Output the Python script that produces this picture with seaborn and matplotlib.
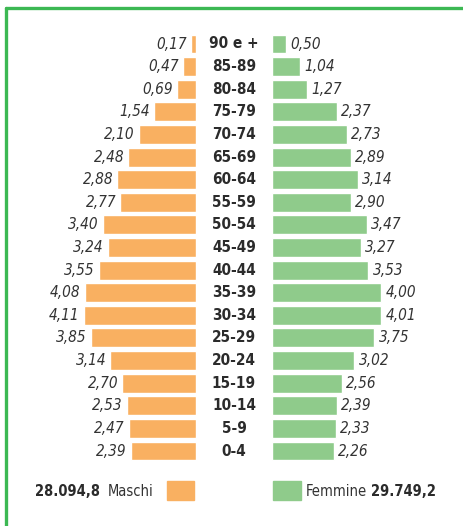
import matplotlib
matplotlib.use("Agg")
import matplotlib.pyplot as plt
from matplotlib.lines import Line2D
import seaborn as sns
import pandas as pd

# age groups, top to bottom
ages = ["90 e +", "85-89", "80-84", "75-79", "70-74", "65-69", "60-64", "55-59", "50-54",
        "45-49", "40-44", "35-39", "30-34", "25-29", "20-24", "15-19", "10-14", "5-9", "0-4"]
males = [0.17, 0.47, 0.69, 1.54, 2.10, 2.48, 2.88, 2.77, 3.40,
         3.24, 3.55, 4.08, 4.11, 3.85, 3.14, 2.70, 2.53, 2.47, 2.39]
females = [0.50, 1.04, 1.27, 2.37, 2.73, 2.89, 3.14, 2.90, 3.47,
           3.27, 3.53, 4.00, 4.01, 3.75, 3.02, 2.56, 2.39, 2.33, 2.26]
total_m = "28.094,8"
total_f = "29.749,2"

orange = "#f9b061"
green = "#8fcb8b"
border = "#3cb853"
txt = "#2b2b2b"

sns.set_theme(style="white")
plt.rcParams["font.family"] = ["Liberation Sans Narrow", "DejaVu Sans"]
plt.rcParams["font.stretch"] = "condensed"

df = pd.DataFrame({"age": ages, "m": males, "f": females})

W, H = 464, 526
fig = plt.figure(figsize=(W / 100, H / 100), dpi=100)

def px_axes(x0, x1, y0, y1):
    # pixel box (top-left origin) -> figure axes
    return fig.add_axes([x0 / W, 1 - y1 / H, (x1 - x0) / W, (y1 - y0) / H])

n = len(ages)
y_first, y_last = 44, 451
row = (y_last - y_first) / (n - 1)
top = y_first - row / 2
bot = top + n * row
scale = 27.3  # px per unit

axL = px_axes(20, 196, top, bot)
axR = px_axes(272, 455, top, bot)

sns.barplot(data=df, x="m", y="age", ax=axL, color=orange, orient="h", width=0.84,
            saturation=1)
sns.barplot(data=df, x="f", y="age", ax=axR, color=green, orient="h", width=0.84,
            saturation=1)

axL.set_xlim(176 / scale, 0)
axR.set_xlim(0, 183 / scale)
for ax in (axL, axR):
    ax.set_ylim(n - 0.5, -0.5)
    ax.axis("off")

fs = 11
axL.bar_label(axL.containers[0], labels=[f"{v:.2f}".replace(".", ",") for v in males],
              padding=3, fontsize=fs, fontstyle="italic", color="#333333")
axR.bar_label(axR.containers[0], labels=[f"{v:.2f}".replace(".", ",") for v in females],
              padding=3, fontsize=fs, fontstyle="italic", color="#333333")

# age labels in the middle
for i, a in enumerate(ages):
    fig.text(234 / W, 1 - (y_first + i * row) / H, a, ha="center", va="center",
             fontsize=fs, fontweight="bold", color=txt)

# legend row
lfs = 10.5
ly = 1 - 491 / H
fig.patches.append(plt.Rectangle((167 / W, 1 - 500 / H), 27 / W, 19 / H,
                                 transform=fig.transFigure, color=orange))
fig.patches.append(plt.Rectangle((273 / W, 1 - 500 / H), 28 / W, 19 / H,
                                 transform=fig.transFigure, color=green))
fig.text(100 / W, ly, total_m, ha="right", va="center", fontsize=lfs,
         fontweight="bold", color=txt)
fig.text(108 / W, ly, "Maschi", ha="left", va="center", fontsize=lfs, color="#333333")
fig.text(306 / W, ly, "Femmine", ha="left", va="center", fontsize=lfs, color="#333333")
fig.text(436 / W, ly, total_f, ha="right", va="center", fontsize=lfs,
         fontweight="bold", color=txt)

# green frame (top and left edges)
fig.add_artist(Line2D([6 / W, 1], [1 - 8 / H, 1 - 8 / H], color=border, lw=2.4,
                      transform=fig.transFigure))
fig.add_artist(Line2D([6 / W, 6 / W], [1 - 8 / H, 0], color=border, lw=2.4,
                      transform=fig.transFigure))

fig.savefig("out.png", dpi=100, facecolor="white")
